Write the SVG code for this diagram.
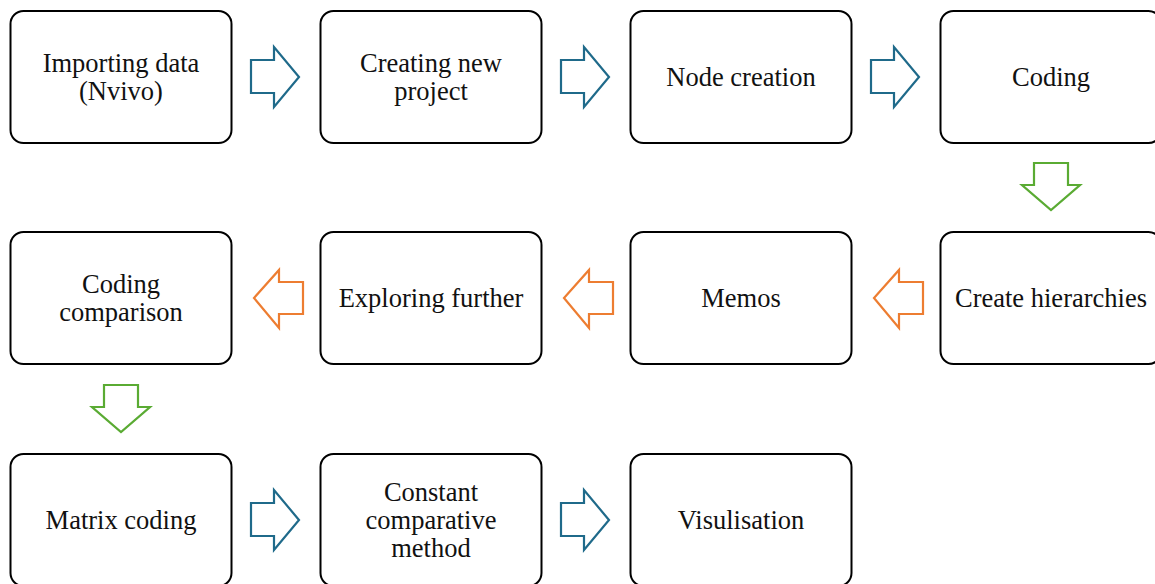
<svg xmlns="http://www.w3.org/2000/svg" width="1155" height="584" viewBox="0 0 1155 584">
  <style>
    .box { fill: #ffffff; stroke: #000000; stroke-width: 2; }
    .lbl { font-family: "Liberation Serif", "Times New Roman", serif; font-size: 26.5px; fill: #111111; text-anchor: middle; }
    .blue { fill: #ffffff; stroke: #1f6a8a; stroke-width: 2.2; stroke-linejoin: miter; }
    .green { fill: #ffffff; stroke: #5aab33; stroke-width: 2.2; stroke-linejoin: miter; }
    .orange { fill: #ffffff; stroke: #ed7d31; stroke-width: 2.2; stroke-linejoin: miter; }
  </style>
  <defs>
    <rect id="card" x="0" y="0" width="221" height="132" rx="13" ry="13"/>
    <polygon id="arrowRight" points="0,13 23,13 23,0 48,30 23,60 23,46 0,46"/>
    <polygon id="arrowLeft" points="49,12 25,12 25,0 0,28 25,58 25,44 49,44"/>
    <polygon id="arrowDown" points="12,0 46,0 46,22 58,22 29,47 0,22 12,22"/>
  </defs>
  <rect width="1155" height="584" fill="#ffffff"/>

  <!-- connectors -->
  <g id="connectors">
    <use href="#arrowRight" class="blue" x="251" y="47"/>
    <use href="#arrowRight" class="blue" x="561" y="47"/>
    <use href="#arrowRight" class="blue" x="871" y="47"/>
    <use href="#arrowDown" class="green" x="1022" y="163"/>
    <use href="#arrowLeft" class="orange" x="874" y="270"/>
    <use href="#arrowLeft" class="orange" x="564" y="270"/>
    <use href="#arrowLeft" class="orange" x="254" y="270"/>
    <use href="#arrowDown" class="green" x="92" y="385"/>
    <use href="#arrowRight" class="blue" x="251" y="490"/>
    <use href="#arrowRight" class="blue" x="561" y="490"/>
  </g>

  <!-- row 1 -->
  <g id="node-importing">
    <use href="#card" class="box" x="10.5" y="11"/>
    <text class="lbl" x="121" y="72">Importing data</text>
    <text class="lbl" x="121" y="100">(Nvivo)</text>
  </g>
  <g id="node-new-project">
    <use href="#card" class="box" x="320.5" y="11"/>
    <text class="lbl" x="431" y="72">Creating new</text>
    <text class="lbl" x="431" y="100">project</text>
  </g>
  <g id="node-node-creation">
    <use href="#card" class="box" x="630.5" y="11"/>
    <text class="lbl" x="741" y="86">Node creation</text>
  </g>
  <g id="node-coding">
    <use href="#card" class="box" x="940.5" y="11"/>
    <text class="lbl" x="1051" y="86">Coding</text>
  </g>

  <!-- row 2 -->
  <g id="node-hierarchies">
    <use href="#card" class="box" x="940.5" y="232"/>
    <text class="lbl" x="1051" y="307">Create hierarchies</text>
  </g>
  <g id="node-memos">
    <use href="#card" class="box" x="630.5" y="232"/>
    <text class="lbl" x="741" y="307">Memos</text>
  </g>
  <g id="node-exploring">
    <use href="#card" class="box" x="320.5" y="232"/>
    <text class="lbl" x="431" y="307">Exploring further</text>
  </g>
  <g id="node-coding-comparison">
    <use href="#card" class="box" x="10.5" y="232"/>
    <text class="lbl" x="121" y="293">Coding</text>
    <text class="lbl" x="121" y="321">comparison</text>
  </g>

  <!-- row 3 -->
  <g id="node-matrix">
    <use href="#card" class="box" x="10.5" y="454"/>
    <text class="lbl" x="121" y="529">Matrix coding</text>
  </g>
  <g id="node-constant">
    <use href="#card" class="box" x="320.5" y="454"/>
    <text class="lbl" x="431" y="501">Constant</text>
    <text class="lbl" x="431" y="529">comparative</text>
    <text class="lbl" x="431" y="557">method</text>
  </g>
  <g id="node-visualisation">
    <use href="#card" class="box" x="630.5" y="454"/>
    <text class="lbl" x="741" y="529">Visulisation</text>
  </g>
</svg>
